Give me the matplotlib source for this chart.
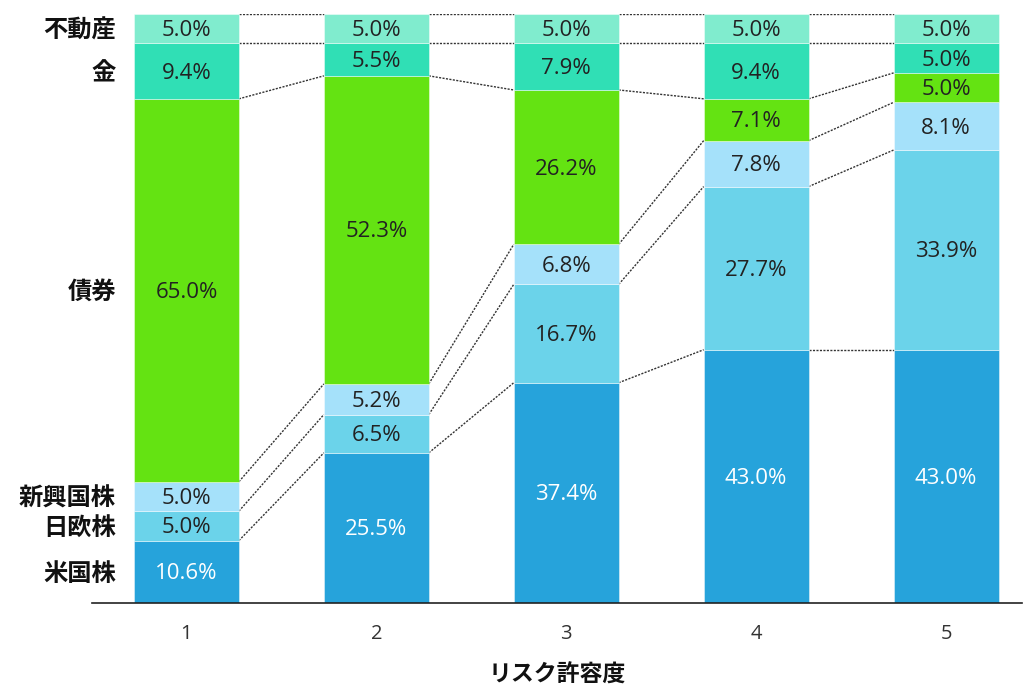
import matplotlib
matplotlib.use("Agg")
import matplotlib.pyplot as plt
import matplotlib.transforms as mtransforms
import numpy as np

categories = ["1", "2", "3", "4", "5"]
series_names = ["米国株", "日欧株", "新興国株", "債券", "金", "不動産"]
us_stocks = [10.6, 25.5, 37.4, 43.0, 43.0]
jp_eu_stocks = [5.0, 6.5, 16.7, 27.7, 33.9]
em_stocks = [5.0, 5.2, 6.8, 7.8, 8.1]
bonds = [65.0, 52.3, 26.2, 7.1, 5.0]
gold = [9.4, 5.5, 7.9, 9.4, 5.0]
real_estate = [5.0, 5.0, 5.0, 5.0, 5.0]
xlabel = "リスク許容度"

colors = ["#26A3DB", "#6BD3EA", "#A5E1FA", "#64E312", "#30DFB5", "#80ECCE"]
text_colors = ["white", "#222222", "#222222", "#222222", "#222222", "#222222"]

series = [us_stocks, jp_eu_stocks, em_stocks, bonds, gold, real_estate]

fig = plt.figure(figsize=(10.25, 6.86), dpi=100)
ax = fig.add_axes([92/1025, 1-603/686, (1022-92)/1025, (603-14)/686])

shift = mtransforms.ScaledTranslation(0, -2/100, fig.dpi_scale_trans)

x = np.arange(1, len(categories)+1)
width = 105/190
bottom = np.zeros(len(categories))
bounds = [bottom.copy()]
for vals, c, tc in zip(series, colors, text_colors):
    v = np.array(vals)
    ax.bar(x, v, width, bottom=bottom, color=c, edgecolor=(1, 1, 1, 0.5), linewidth=0.6, zorder=2)
    for xi, b, vi in zip(x, bottom, v):
        ax.text(xi, b + vi/2, f"{vi:.1f}%", ha="center", va="center", color=tc,
                fontsize=16, family=["Open Sans", "DejaVu Sans"], zorder=3,
                transform=ax.transData + shift)
    bottom = bottom + v
    bounds.append(bottom.copy())

# connector lines
for b in bounds[1:]:
    for i in range(len(categories)-1):
        ax.plot([x[i]+width/2, x[i+1]-width/2], [b[i], b[i+1]], color="#333333",
                linestyle=(0, (1.5, 1.0)), linewidth=1.0, zorder=1)

ax.set_xlim(1-(186.5-92)/190, 5+(1022-946)/190)
ax.set_ylim(0, 100)
for s in ["top", "right", "left"]:
    ax.spines[s].set_visible(False)
ax.spines["bottom"].set_color("#222222")
ax.spines["bottom"].set_linewidth(1.2)
ax.set_yticks([])
ax.set_xticks(x)
ax.set_xticklabels(categories, fontsize=14.5, family=["Open Sans", "DejaVu Sans"], color="#333333")
ax.tick_params(axis="x", length=0, pad=15)

# left series labels at first bar segment centers
b0 = [b[0] for b in bounds]
for k, name in enumerate(series_names):
    yc = (b0[k] + b0[k+1]) / 2
    fig.text(116/1025, 1 - (603 - yc/100*589)/686 - 2/686, name, ha="right", va="center",
             fontsize=17.5, fontweight="bold", family=["Noto Sans CJK JP", "DejaVu Sans"], color="#111111")

fig.text((92+1022)/2/1025, 1-675/686, xlabel, ha="center", va="center", fontsize=16.5,
         fontweight="bold", family=["Noto Sans CJK JP", "DejaVu Sans"], color="#111111")

fig.savefig("out.png", dpi=100)
